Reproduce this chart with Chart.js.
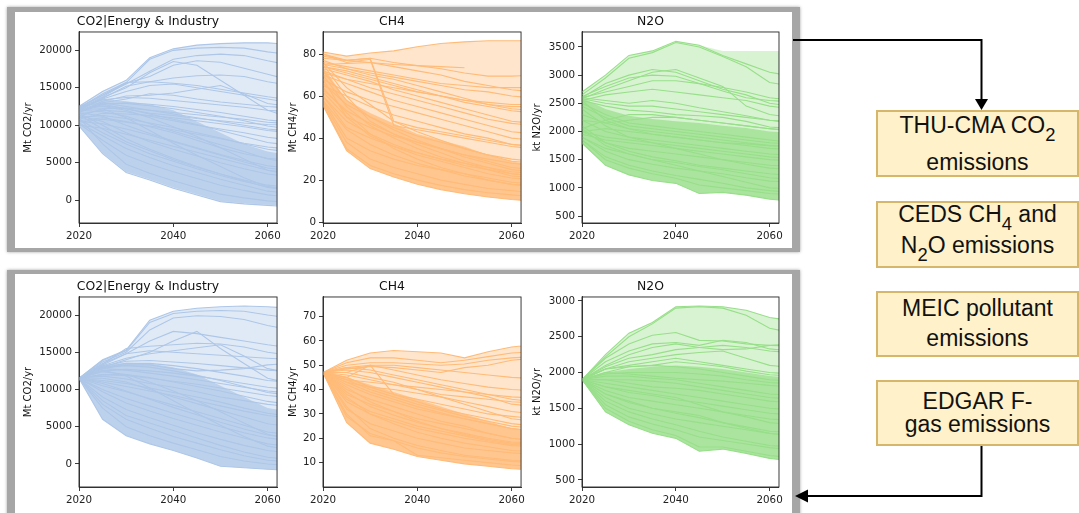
<!DOCTYPE html>
<html>
<head>
<meta charset="utf-8">
<script src="https://cdn.jsdelivr.net/npm/chart.js@4.4.1/dist/chart.umd.min.js"></script>
<style>
  body { margin: 0; width: 1079px; height: 513px; overflow: hidden; background: #fff; position: relative; }
  .frame { position: absolute; box-sizing: border-box; background: #fff; border: solid #a6a6a6;
           box-shadow: 0 0 3px rgba(0,0,0,0.35); }
  canvas { position: absolute; }
  .box { position: absolute; left: 876px; width: 203px; box-sizing: border-box; background: #fff1c9;
         border: 2px solid #d6b66a; font-family: 'Liberation Sans', Arial, sans-serif; color: #111; }
  .box div { position: absolute; left: 0; right: 0; text-align: center; font-size: 23px; line-height: 23px; white-space: nowrap; }
  .box sub { font-size: 0.8em; vertical-align: baseline; position: relative; top: 8px; line-height: 0; }
  svg { position: absolute; left: 0; top: 0; }
</style>
</head>
<body>

<div class="frame" style="left:7px; top:7px; width:793px; height:245px; border-width:5px 8px 4px 8px;"></div>
<div class="frame" style="left:7px; top:270px; width:793px; height:260px; border-width:4px 8px 4px 8px;"></div>

<canvas id="co2One" width="266" height="236" style="left:18px; top:12px;"></canvas>
<canvas id="ch4One" width="266" height="236" style="left:262px; top:12px;"></canvas>
<canvas id="n2oOne" width="265" height="236" style="left:521px; top:12px;"></canvas>
<canvas id="co2Two" width="266" height="235" style="left:18px; top:277px;"></canvas>
<canvas id="ch4Two" width="266" height="235" style="left:262px; top:277px;"></canvas>
<canvas id="n2oTwo" width="265" height="235" style="left:521px; top:277px;"></canvas>

<div class="box" style="top:110px; height:67px;">
  <div style="top:2px;">THU-CMA CO<sub>2</sub></div>
  <div style="top:39px;">emissions</div>
</div>
<div class="box" style="top:201px; height:67px;">
  <div style="top:0px;">CEDS CH<sub>4</sub> and</div>
  <div style="top:31px;">N<sub>2</sub>O emissions</div>
</div>
<div class="box" style="top:291px; height:66px;">
  <div style="top:4px;">MEIC pollutant</div>
  <div style="top:34px;">emissions</div>
</div>
<div class="box" style="top:380px; height:66px;">
  <div style="top:8px;">EDGAR F-</div>
  <div style="top:31px;">gas emissions</div>
</div>

<svg width="1079" height="513">
  <polyline points="793,40 981.5,40 981.5,100" fill="none" stroke="#000" stroke-width="2"/>
  <polygon points="975,99 988,99 981.5,110" fill="#000"/>
  <polyline points="981.5,446 981.5,496 806,496" fill="none" stroke="#000" stroke-width="2"/>
  <polygon points="795,496 808,489.5 808,502.5" fill="#000"/>
</svg>

<script>
// sample years; the 2065 value only carries each path out to the axis edge
const years = [2020, 2025, 2030, 2035, 2040, 2045, 2050, 2055, 2060, 2065];

const yearTicks = [2020, 2040, 2060];
const co2Ticks = [0, 5000, 10000, 15000, 20000];
const ch4TicksOne = [0, 20, 40, 60, 80];
const n2oTicksOne = [500, 1000, 1500, 2000, 2500, 3000, 3500];
const ch4TicksTwo = [10, 20, 30, 40, 50, 60, 70];
const n2oTicksTwo = [500, 1000, 1500, 2000, 2500, 3000];

/* ---------- first set: CO2 | Energy & Industry ---------- */
const co2OneHigh = [12600, 14600, 16000, 19000, 20200, 20700, 20900, 21000, 21000, 20800];
const co2OneLow = [9900, 6200, 3700, 2700, 1600, 700, -200, -500, -700, -900];
const co2OneCoreHigh = [12600, 13500, 13200, 12800, 12000, 10500, 9000, 7500, 6500, 6000];
const co2OneCoreLow = [9900, 6300, 3800, 2800, 1700, 800, -100, -400, -600, -800];
const co2OneLines = [
  [12500, 14500, 16000, 19000, 20200, 20700, 20900, 21000, 21000, 20800],
  [12300, 14200, 15700, 18800, 20000, 20300, 20400, 20300, 19800, 19400],
  [12400, 14000, 15500, 17200, 18800, 19300, 19500, 19300, 18600, 18000],
  [12200, 13800, 15600, 16500, 18000, 18600, 18400, 17600, 16800, 16000],
  [12000, 13600, 15200, 15800, 16300, 16600, 16700, 16500, 15800, 15300],
  [12300, 14000, 15700, 15800, 15600, 15300, 14800, 14300, 13800, 13400],
  [12100, 13500, 14500, 15300, 15500, 15000, 14500, 14000, 13500, 13000],
  [11800, 13200, 13900, 14000, 14300, 14800, 15300, 14200, 12900, 12500],
  [12000, 13700, 15000, 17000, 18500, 18000, 16000, 14000, 12000, 11000],
  [11900, 13000, 13500, 14200, 14000, 13500, 13100, 12800, 12500, 12300],
  [12200, 13400, 13700, 13600, 13300, 13000, 12700, 12400, 12000, 11800],
  [11700, 12800, 13000, 12800, 12500, 12100, 11700, 11200, 10700, 10400],
  [11500, 12000, 11800, 11200, 10600, 10000, 9500, 9000, 8400, 8000],
  [11000, 11300, 10900, 10300, 9700, 9000, 8300, 7500, 6800, 6400],
  [12000, 11800, 11200, 10200, 9200, 8300, 7400, 6500, 5500, 5000],
  [10500, 10200, 9500, 8700, 7800, 6900, 6000, 5100, 4300, 3900],
  [11300, 10500, 9000, 7800, 6800, 5900, 5000, 4200, 3500, 3100],
  [12200, 12500, 12000, 11000, 9800, 8500, 7000, 5500, 4000, 3300],
  [10800, 9000, 7500, 6200, 5200, 4200, 3300, 2500, 1800, 1500],
  [11600, 10000, 8200, 6800, 5600, 4500, 3500, 2600, 1700, 1300],
  [10200, 8000, 6000, 4800, 3800, 2900, 2000, 1300, 700, 400],
  [11000, 7500, 4800, 3600, 2600, 1700, 800, 300, -100, -300],
  [12500, 13000, 12500, 12000, 11500, 11000, 10500, 10000, 9500, 9200],
  [11800, 12800, 12200, 11600, 11300, 10900, 10600, 10300, 10100, 10000],
  [10600, 11000, 10500, 9800, 9000, 8000, 7000, 6200, 5600, 5300],
  [11200, 12200, 12300, 12000, 11700, 11400, 11100, 10800, 10400, 10200],
  [10800, 11600, 11500, 11300, 11000, 10600, 10200, 9800, 9300, 9000],
  [11900, 12900, 12900, 12600, 12200, 11700, 11200, 10600, 9900, 9500],
  [10400, 10800, 10400, 9900, 9400, 8800, 8200, 7600, 7100, 6800],
  [12300, 12600, 12200, 11500, 10800, 10100, 9300, 8500, 7700, 7300],
  [10000, 9600, 8800, 8000, 7200, 6400, 5600, 4800, 4000, 3600],
  [11700, 11200, 10000, 8900, 7900, 7000, 6100, 5300, 4600, 4200],
  [10300, 8600, 6900, 5700, 4600, 3700, 2800, 2000, 1200, 900],
  [12100, 12200, 11000, 9300, 7600, 6000, 4500, 3000, 1800, 1300],
  [11400, 9500, 7800, 6600, 5400, 4400, 3500, 2700, 2000, 1700],
  [9900, 6200, 3700, 2700, 1600, 700, -200, -500, -700, -900]
];

/* ---------- first set: CH4 ---------- */
const ch4OneHigh = [81, 79, 80.5, 81.5, 83.5, 85, 85.8, 86.3, 86.3, 86.3];
const ch4OneLow = [55.5, 34, 25.5, 21.5, 18, 15.5, 13.5, 12, 10.8, 10];
const ch4OneCoreHigh = [74, 58, 52, 47, 42, 39, 36, 32, 29, 27];
const ch4OneCoreLow = [55.5, 34, 25.5, 21.5, 18, 15.5, 13.5, 12, 10.8, 10];
const ch4OneLines = [
  [81, 79, 80.5, 81.5, 83.5, 85, 85.8, 86.3, 86.3, 86.3],
  [78, 77, 78, 76, 74.5, 73, 71, 69.5, 69.5, 70],
  [75, 75.5, 76, 75, 74.5, 74, 73.5, null, null, null],
  [80, 76, 77.5, 46, 44, 42, 40, 38, 36, 35],
  [79, 77, 78, 48, 45, 43, 41, 39, 37, 36],
  [76, 74, 72, 70, 68, 66, 65, 64, 64, 64],
  [75, 73, 71, 69, 67, 65, 63, 62, 60, 59],
  [74, 72, 69, 66, 63, 60, 57, 55, 53, 52],
  [73, 70, 67, 63, 60, 57, 54, 51, 48, 47],
  [72, 68, 64, 61, 58, 55, 52, 49, 47, 46],
  [70, 66, 62, 58, 55, 52, 49, 46, 43, 42],
  [77, 73, 70, 68, 65, 62, 59, 56, 54, 53],
  [68, 62, 58, 55, 52, 49, 46, 43, 40, 39],
  [65, 60, 55, 51, 48, 45, 42, 40, 37, 36],
  [74, 71, 68, 65, 62, 60, 58, 56, 55, 55],
  [71, 68, 66, 64, 62, 60, 58, 57, 56, 56],
  [80, 77, 76, 74, 72, 70, 67, 65, 63, 62],
  [62, 50, 45, 41, 38, 35, 32, 30, 28, 27],
  [60, 45, 40, 36, 33, 30, 28, 26, 24, 23],
  [58, 40, 34, 30, 27, 25, 23, 21, 19, 18],
  [56, 35, 27, 23, 20, 17.5, 15.5, 14, 13, 12],
  [70, 55, 46, 40, 35, 31, 28, 25, 22, 21],
  [75, 60, 48, 42, 37, 33, 29, 26, 23, 22],
  [64, 52, 42, 35, 30, 26, 23, 20, 18, 17],
  [66, 56, 50, 45, 41, 38, 35, 32, 29, 28],
  [63, 53, 47, 42, 38, 35, 32, 29, 26, 25],
  [60, 48, 42, 37, 33, 30, 27, 25, 23, 22],
  [58, 44, 37, 32, 28, 25, 22, 20, 18, 17],
  [57, 38, 30, 26, 23, 20, 18, 16, 15, 14],
  [72, 58, 50, 44, 39, 35, 31, 28, 25, 24],
  [68, 50, 41, 36, 32, 29, 26, 23, 21, 20],
  [76, 64, 56, 48, 43, 39, 35, 32, 30, 29],
  [55.5, 34, 25.5, 21.5, 18, 15.5, 13.5, 12, 10.8, 10]
];

/* ---------- first set: N2O ---------- */
const n2oOneHigh = [2700, 3000, 3350, 3430, 3600, 3530, 3430, 3430, 3430, 3430];
const n2oOneLow = [1780, 1400, 1230, 1130, 1080, 900, 920, 870, 800, 760];
const n2oOneCoreHigh = [2600, 2400, 2280, 2220, 2180, 2150, 2100, 2060, 2000, 1980];
const n2oOneCoreLow = [1780, 1400, 1230, 1130, 1080, 900, 920, 870, 800, 760];
const n2oOneLines = [
  [2700, 3000, 3350, 3430, 3600, 3530, 3350, 3200, 3050, 2980],
  [2650, 2950, 3300, 3400, 3580, 3500, 3330, 3150, 2870, 2800],
  [2600, 2850, 3000, 3100, 3050, 2900, 2750, 2650, 2500, 2450],
  [2620, 2800, 2950, 3000, 2980, 2850, 2720, 2600, 2550, 2520],
  [2580, 2750, 2900, 3050, 3100, 2950, 2800, 2450, 2300, 2250],
  [2600, 2700, 2800, 2900, 2900, 2850, 2780, 2700, 2600, 2550],
  [2550, 2650, 2700, 2750, 2700, 2650, 2600, 2550, 2450, 2400],
  [2600, 2550, 2500, 2550, 2500, 2420, 2350, 2280, 2200, 2150],
  [2580, 2500, 2450, 2450, 2400, 2350, 2300, 2250, 2200, 2170],
  [2550, 2450, 2380, 2350, 2300, 2280, 2250, 2180, 2080, 2050],
  [2200, 2150, 2200, 2250, 2250, 2200, 2150, 2100, 2050, 2020],
  [2050, 2200, 2300, 2300, 2250, 2200, 2150, 2100, 2050, 2000],
  [2500, 2300, 2150, 2100, 2050, 2000, 1950, 1900, 1850, 1800],
  [2000, 2050, 2000, 1950, 1900, 1850, 1800, 1750, 1700, 1680],
  [1950, 1850, 1800, 1750, 1700, 1650, 1600, 1550, 1500, 1480],
  [2400, 2100, 1900, 1800, 1700, 1600, 1500, 1420, 1350, 1320],
  [1900, 1700, 1600, 1500, 1450, 1380, 1320, 1250, 1180, 1150],
  [1850, 1550, 1400, 1300, 1220, 1150, 1080, 1000, 950, 920],
  [2100, 1800, 1650, 1550, 1480, 1400, 1350, 1300, 1250, 1220],
  [2000, 1900, 1850, 1800, 1750, 1700, 1650, 1600, 1550, 1520],
  [2550, 2200, 2050, 1950, 1900, 1850, 1800, 1780, 1750, 1730],
  [2300, 2150, 2050, 2000, 1950, 1900, 1850, 1800, 1750, 1730],
  [2450, 2250, 2100, 2050, 2000, 1950, 1900, 1850, 1800, 1780],
  [2000, 1800, 1700, 1650, 1600, 1550, 1500, 1450, 1400, 1380],
  [1900, 1650, 1500, 1420, 1350, 1300, 1250, 1180, 1120, 1100],
  [2050, 1750, 1600, 1500, 1400, 1300, 1200, 1100, 1000, 980],
  [2200, 2000, 1900, 1850, 1800, 1750, 1700, 1650, 1600, 1580],
  [1850, 1500, 1350, 1250, 1170, 1050, 1000, 950, 900, 880],
  [1800, 1400, 1230, 1130, 1080, 900, 920, 870, 800, 760]
];

/* ---------- second set: CO2 | Energy & Industry ---------- */
const co2TwoHigh = [11500, 14000, 15300, 19300, 20500, 20900, 21100, 21200, 21100, 20900];
const co2TwoLow = [11500, 6000, 3800, 2700, 1800, 800, -300, -500, -700, -900];
const co2TwoCoreHigh = [11500, 13300, 13600, 13500, 13000, 12000, 10500, 9000, 7500, 7000];
const co2TwoCoreLow = [11500, 6000, 3800, 2700, 1800, 800, -300, -500, -700, -900];
const co2TwoLines = [
  [11500, 14000, 15300, 19300, 20500, 20900, 21100, 21200, 21100, 20900],
  [11500, 13900, 15200, 19000, 20200, 20500, 20600, 20500, 20000, 19600],
  [11500, 13700, 15000, 18000, 19600, 19900, 19800, 19400, 18600, 18000],
  [11500, 13500, 14800, 16500, 17800, 17500, 17000, 16500, 16000, 15600],
  [11500, 13400, 15500, 15800, 16000, 16200, 16100, 15700, 15000, 14600],
  [11500, 13300, 14800, 15200, 15000, 14800, 14600, 14400, 14200, 14000],
  [11500, 13200, 14200, 14800, 15200, 15600, 16000, 14500, 12800, 12200],
  [11500, 13000, 14000, 15000, 16500, 17800, 15500, 13500, 11500, 10800],
  [11500, 13100, 13800, 13900, 13700, 13500, 13200, 12900, 12600, 12400],
  [11500, 12900, 13500, 13500, 13200, 12800, 12300, 11800, 11200, 11000],
  [11500, 12800, 13300, 13300, 12800, 12500, 12600, 12800, 13300, 13500],
  [11500, 12000, 12000, 11600, 11000, 10400, 9800, 9100, 8400, 8000],
  [11500, 11200, 10800, 10200, 9600, 9000, 8300, 7500, 6800, 6400],
  [11500, 11500, 11000, 10000, 9000, 8100, 7200, 6300, 5400, 5000],
  [11500, 10500, 9700, 8800, 7900, 7000, 6100, 5200, 4300, 3900],
  [11500, 10000, 8800, 7800, 6800, 5900, 5000, 4200, 3500, 3100],
  [11500, 12400, 12000, 11000, 9800, 8500, 7000, 5500, 4000, 3300],
  [11500, 9000, 7300, 6200, 5200, 4200, 3300, 2500, 1800, 1500],
  [11500, 8500, 6500, 5500, 4500, 3500, 2500, 1600, 900, 600],
  [11500, 7500, 5000, 3800, 2800, 1900, 1000, 400, 0, -200],
  [11500, 12800, 12600, 12200, 11800, 11300, 10800, 10300, 9800, 9500],
  [11500, 11800, 11400, 10800, 10300, 9700, 9000, 8500, 8000, 7700],
  [11500, 12500, 12700, 12500, 12200, 11800, 11300, 10800, 10300, 10000],
  [11500, 12000, 11900, 11500, 11100, 10700, 10200, 9700, 9200, 8900],
  [11500, 13000, 13200, 13000, 12500, 11900, 11200, 10400, 9600, 9200],
  [11500, 11000, 10400, 9800, 9200, 8500, 7800, 7100, 6500, 6200],
  [11500, 9700, 8200, 7100, 6100, 5200, 4300, 3500, 2700, 2300],
  [11500, 10800, 9800, 8700, 7600, 6600, 5600, 4700, 3900, 3500],
  [11500, 8000, 6000, 4800, 3700, 2800, 1900, 1100, 500, 300],
  [11500, 12600, 11800, 10200, 8500, 6800, 5200, 3700, 2400, 1900],
  [11500, 6000, 3800, 2700, 1800, 800, -300, -500, -700, -900]
];

/* ---------- second set: CH4 ---------- */
const ch4TwoHigh = [47, 52, 55, 56, 55.5, 55, 53, 55.5, 57.5, 58.5];
const ch4TwoLow = [47, 26.5, 18, 15.5, 12.5, 11, 9.5, 8.5, 7.5, 7];
const ch4TwoCoreHigh = [47, 45, 42, 39, 36, 33, 30, 27, 24, 23];
const ch4TwoCoreLow = [47, 26.5, 18, 15.5, 12.5, 11, 9.5, 8.5, 7.5, 7];
const ch4TwoLines = [
  [47, 52, 55, 56, 55.5, 55, 53, 55.5, 57.5, 58.5],
  [47, 51, 53, 53, 52, 51, 52, 53.5, 55, 55.5],
  [47, 50, 51, 51, 50.5, 50, 50.5, 52, 53, 53.5],
  [47, 49, 50, 50, 49, 48, 47, 46, 45, 44.5],
  [47, 48.5, 49.5, 49, 48, 47, 49, 50, 52, 53],
  [47, 49, 48, 46, 44, 42, 40, 38, 36, 35],
  [47, 47, 50, 48, 46, 44, 42.5, 41, 40, 39.5],
  [47, 46, 44, 42, 40, 38, 37, 36, 35, 34.5],
  [47, 48, 47, 45, 43, 41, 39, 37, 34, 33],
  [47, 45, 50, 38, 36, 34, 32, 30, 29, 28],
  [47, 44, 43, 42, 41, 40, 39, 38, 37, 36.5],
  [47, 43, 41, 40, 38.5, 37, 35, 33, 31, 30],
  [47, 42, 38, 35, 32, 30, 28, 26, 24, 23],
  [47, 38, 34, 31, 28, 26, 24, 22, 20, 19],
  [47, 35, 30, 27, 24, 22, 20, 18.5, 17, 16.5],
  [47, 32, 26, 23, 20, 18, 16, 15, 14, 13.5],
  [47, 29, 22, 19, 16, 14, 12.5, 11.5, 10.5, 10],
  [47, 40, 36, 33, 30, 27, 25, 22, 20, 19],
  [47, 36, 31, 28, 25, 23, 21, 19, 17.5, 17],
  [47, 30, 21, 19, 13, 12, 11, 10, 9, 8.5],
  [47, 44, 40, 37, 34, 31.5, 29, 27, 25, 24],
  [47, 47, 45, 43, 40, 37, 34, 31, 28, 27],
  [47, 43, 39, 36, 33, 30.5, 28, 26, 24, 23],
  [47, 41, 35, 31, 27, 24, 21.5, 19.5, 18, 17.5],
  [47, 37, 30, 26, 22.5, 20, 18, 16.5, 15, 14.5],
  [47, 33, 24, 20, 17, 15, 13, 12, 11, 10.5],
  [47, 45, 41, 38, 35, 32, 30, 28, 26, 25],
  [47, 39, 33, 29.5, 26.5, 24, 22, 20, 18.5, 18],
  [47, 26.5, 18, 15.5, 12.5, 11, 9.5, 8.5, 7.5, 7]
];

/* ---------- second set: N2O ---------- */
const n2oTwoHigh = [1900, 2250, 2550, 2700, 2920, 2930, 2920, 2870, 2770, 2720];
const n2oTwoLow = [1900, 1450, 1270, 1150, 1080, 900, 930, 870, 800, 760];
const n2oTwoCoreHigh = [1900, 2000, 2050, 2080, 2100, 2080, 2050, 2000, 1950, 1930];
const n2oTwoCoreLow = [1900, 1450, 1270, 1150, 1080, 900, 930, 870, 800, 760];
const n2oTwoLines = [
  [1900, 2250, 2550, 2700, 2920, 2930, 2920, 2870, 2770, 2720],
  [1900, 2220, 2500, 2680, 2900, 2920, 2900, 2800, 2620, 2550],
  [1900, 2200, 2400, 2520, 2560, 2450, 2440, 2400, 2380, 2370],
  [1900, 2150, 2300, 2400, 2420, 2380, 2450, 2420, 2330, 2300],
  [1900, 2100, 2250, 2350, 2400, 2350, 2320, 2330, 2380, 2400],
  [1900, 2080, 2200, 2250, 2320, 2350, 2380, 2350, 2300, 2280],
  [1900, 2050, 2150, 2200, 2250, 2280, 2300, 2200, 2100, 2070],
  [1900, 2050, 2100, 2150, 2200, 2150, 2100, 2050, 2000, 1980],
  [1900, 2000, 2080, 2100, 2150, 2120, 2080, 2020, 1970, 1950],
  [1900, 1950, 1950, 1920, 1900, 1850, 1800, 1750, 1700, 1680],
  [1900, 1850, 1800, 1750, 1700, 1650, 1600, 1550, 1500, 1480],
  [1900, 1750, 1650, 1600, 1550, 1500, 1450, 1400, 1350, 1330],
  [1900, 1650, 1500, 1420, 1350, 1300, 1250, 1200, 1150, 1120],
  [1900, 1550, 1380, 1280, 1200, 1100, 1050, 1000, 950, 920],
  [1900, 2000, 1980, 1950, 1920, 1900, 1880, 1850, 1820, 1800],
  [1900, 1800, 1750, 1700, 1650, 1550, 1450, 1380, 1300, 1270],
  [1900, 1700, 1600, 1500, 1450, 1400, 1300, 1220, 1150, 1120],
  [1900, 1900, 1850, 1800, 1780, 1750, 1700, 1650, 1600, 1580],
  [1900, 1980, 2000, 2000, 2000, 1980, 1950, 1900, 1860, 1840],
  [1900, 1900, 1900, 1880, 1850, 1800, 1750, 1700, 1650, 1630],
  [1900, 1800, 1720, 1680, 1620, 1580, 1530, 1480, 1430, 1410],
  [1900, 1700, 1580, 1500, 1430, 1370, 1300, 1240, 1180, 1160],
  [1900, 1600, 1450, 1350, 1270, 1180, 1100, 1040, 980, 960],
  [1900, 1500, 1320, 1200, 1120, 960, 960, 900, 840, 810],
  [1900, 2050, 2080, 2100, 2080, 2050, 2000, 1950, 1900, 1880],
  [1900, 1450, 1270, 1150, 1080, 900, 930, 870, 800, 760]
];

const blueRgb = '174,199,232';
const orangeRgb = '255,187,120';
const greenRgb = '152,223,138';

Chart.defaults.font.family = "'DejaVu Sans', sans-serif";
Chart.defaults.font.size = 10.3;
Chart.defaults.color = '#222';

// matplotlib style box round the plot area
const spines = {
  id: 'spines',
  afterDatasetsDraw(chart) {
    const { ctx, chartArea: a } = chart;
    ctx.save();
    ctx.strokeStyle = '#262626';
    ctx.lineWidth = 0.9;
    ctx.strokeRect(a.left, a.top, a.right - a.left, a.bottom - a.top);
    ctx.restore();
  }
};

function points(vals) {
  return years.map((x, i) => ({ x: x, y: vals[i] }));
}

function bandPair(high, low, color, order) {
  const base = { pointRadius: 0, borderWidth: 0, borderColor: 'rgba(0,0,0,0)', order: order };
  return [
    Object.assign({ data: points(high), backgroundColor: color, fill: '+1' }, base),
    Object.assign({ data: points(low), fill: false }, base)
  ];
}

function emissionChart(id, cfg) {
  const lineColor = 'rgb(' + cfg.rgb + ')';
  const datasets = cfg.lines.map(vals => ({
    data: points(vals),
    borderColor: lineColor,
    borderWidth: 1.1,
    pointRadius: 0,
    fill: false,
    order: 0
  }));
  datasets.push(...bandPair(cfg.coreHigh, cfg.coreLow, 'rgba(' + cfg.rgb + ',0.72)', 1));
  datasets.push(...bandPair(cfg.high, cfg.low, 'rgba(' + cfg.rgb + ',0.38)', 2));

  new Chart(document.getElementById(id), {
    type: 'line',
    data: { datasets: datasets },
    plugins: [spines],
    options: {
      responsive: false,
      animation: false,
      events: [],
      layout: { padding: { left: 0, right: 6, top: 0, bottom: 0 } },
      plugins: {
        legend: { display: false },
        tooltip: { enabled: false },
        title: {
          display: true,
          text: cfg.title,
          color: '#111',
          font: { size: 12.4, weight: 'normal' },
          padding: { top: 2, bottom: 3.1 }
        }
      },
      scales: {
        x: {
          type: 'linear',
          min: 2020,
          max: 2062,
          afterFit: s => { s.height = 25; },
          afterBuildTicks: s => { s.ticks = yearTicks.map(v => ({ value: v })); },
          ticks: { padding: 3, maxRotation: 0, callback: v => String(v) },
          grid: { drawOnChartArea: false, tickLength: 4, tickColor: '#262626', tickWidth: 0.9 },
          border: { color: '#262626', width: 0.9 }
        },
        y: {
          min: cfg.min,
          max: cfg.max,
          afterFit: s => { s.width = 61; },
          afterBuildTicks: s => { s.ticks = cfg.ticks.map(v => ({ value: v })); },
          ticks: { padding: 3, callback: v => String(v) },
          grid: { drawOnChartArea: false, tickLength: 4, tickColor: '#262626', tickWidth: 0.9 },
          border: { color: '#262626', width: 0.9 },
          title: { display: true, text: cfg.yLabel, color: '#111', font: { size: 10 }, padding: { top: cfg.labelPad, bottom: 0 } }
        }
      }
    }
  });
}

emissionChart('co2One', { title: 'CO2|Energy & Industry', yLabel: 'Mt CO2/yr', labelPad: 4, rgb: blueRgb,
  lines: co2OneLines, high: co2OneHigh, low: co2OneLow, coreHigh: co2OneCoreHigh, coreLow: co2OneCoreLow,
  min: -3050, max: 22450, ticks: co2Ticks });
emissionChart('ch4One', { title: 'CH4', yLabel: 'Mt CH4/yr', labelPad: 25, rgb: orangeRgb,
  lines: ch4OneLines, high: ch4OneHigh, low: ch4OneLow, coreHigh: ch4OneCoreHigh, coreLow: ch4OneCoreLow,
  min: -0.4, max: 90.5, ticks: ch4TicksOne });
emissionChart('n2oOne', { title: 'N2O', yLabel: 'kt N2O/yr', labelPad: 10, rgb: greenRgb,
  lines: n2oOneLines, high: n2oOneHigh, low: n2oOneLow, coreHigh: n2oOneCoreHigh, coreLow: n2oOneCoreLow,
  min: 376, max: 3766, ticks: n2oTicksOne });
emissionChart('co2Two', { title: 'CO2|Energy & Industry', yLabel: 'Mt CO2/yr', labelPad: 4, rgb: blueRgb,
  lines: co2TwoLines, high: co2TwoHigh, low: co2TwoLow, coreHigh: co2TwoCoreHigh, coreLow: co2TwoCoreLow,
  min: -3090, max: 22420, ticks: co2Ticks });
emissionChart('ch4Two', { title: 'CH4', yLabel: 'Mt CH4/yr', labelPad: 25, rgb: orangeRgb,
  lines: ch4TwoLines, high: ch4TwoHigh, low: ch4TwoLow, coreHigh: ch4TwoCoreHigh, coreLow: ch4TwoCoreLow,
  min: 0, max: 78, ticks: ch4TicksTwo });
emissionChart('n2oTwo', { title: 'N2O', yLabel: 'kt N2O/yr', labelPad: 10, rgb: greenRgb,
  lines: n2oTwoLines, high: n2oTwoHigh, low: n2oTwoLow, coreHigh: n2oTwoCoreHigh, coreLow: n2oTwoCoreLow,
  min: 400, max: 3056, ticks: n2oTicksTwo });
</script>
</body>
</html>
